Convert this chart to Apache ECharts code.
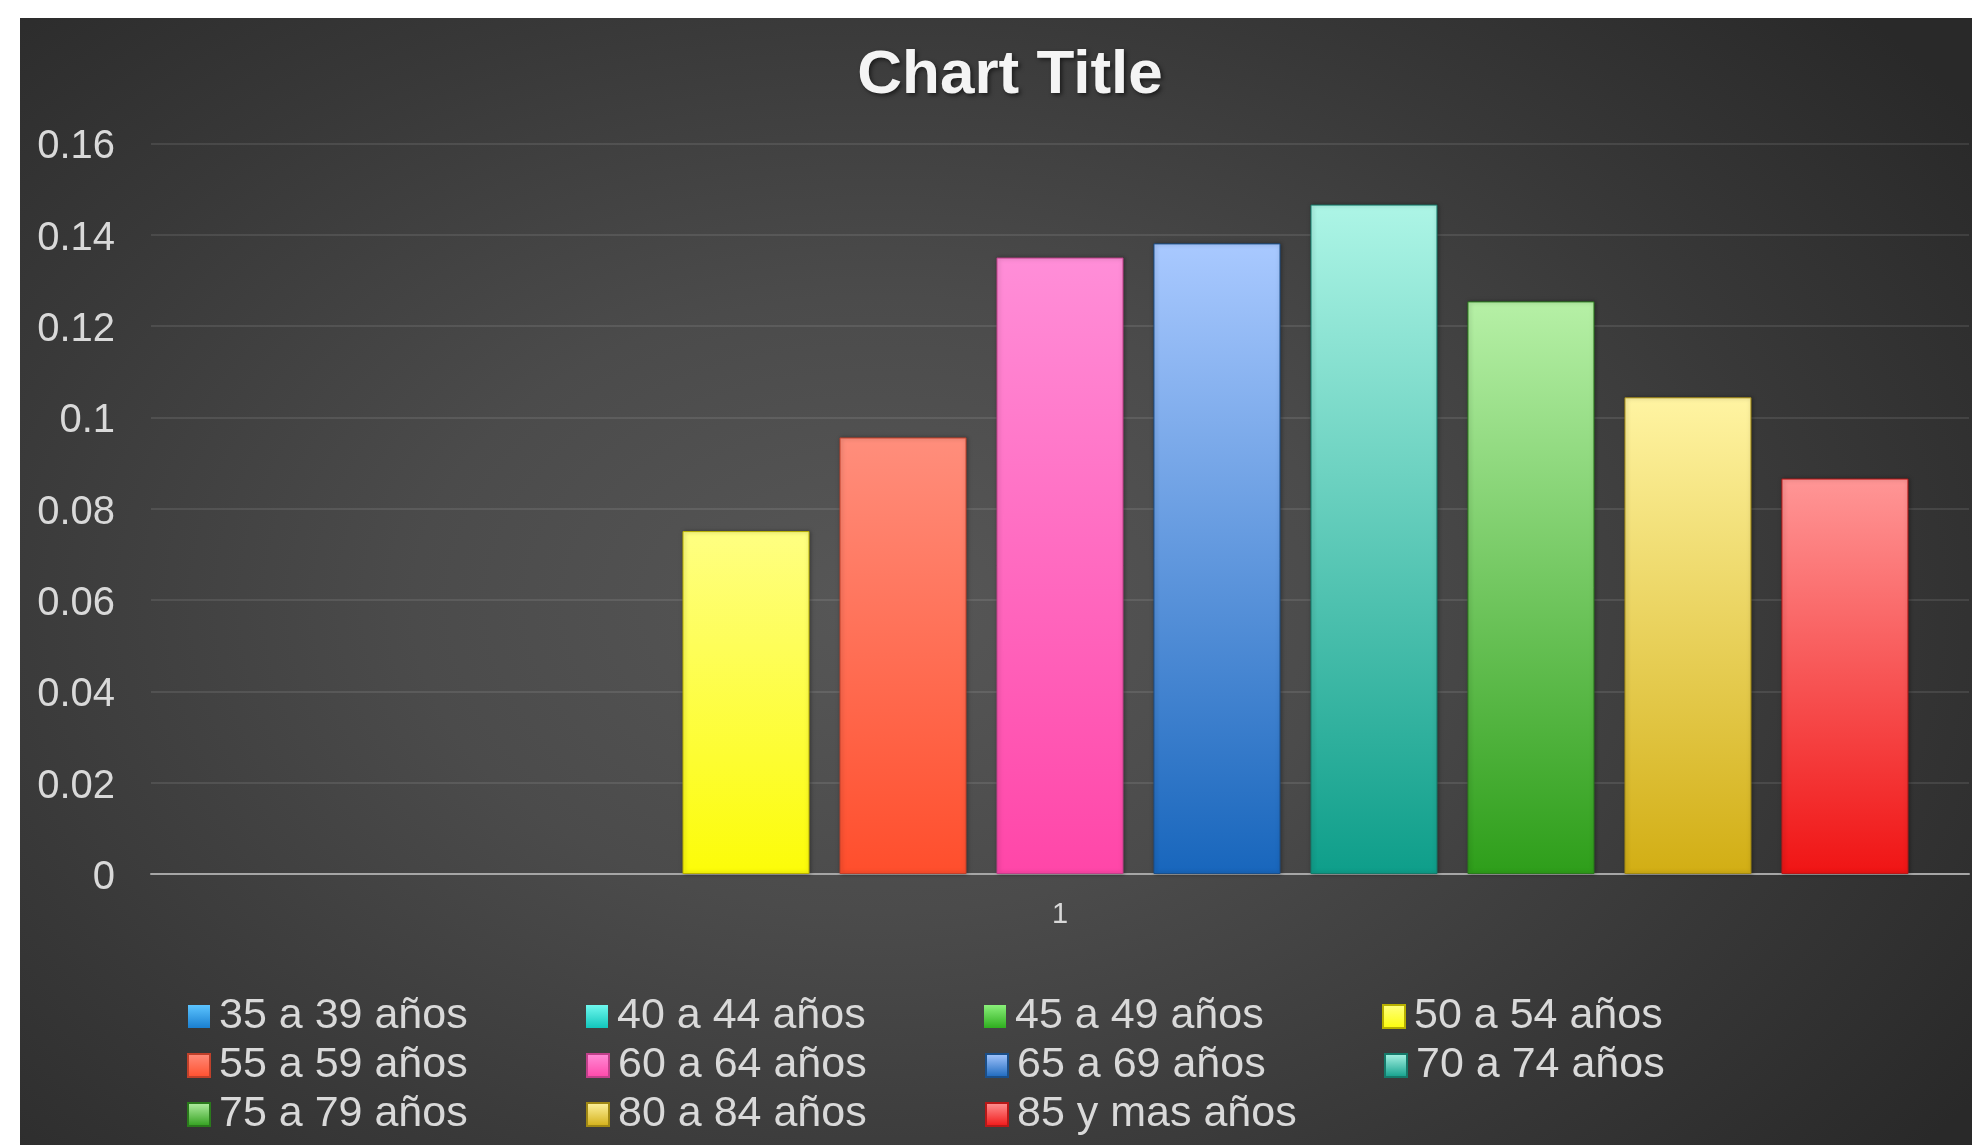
<!DOCTYPE html>
<html>
<head>
<meta charset="utf-8">
<script src="https://cdn.jsdelivr.net/npm/echarts@6/dist/echarts.min.js"></script>
<style>
  html, body { margin: 0; padding: 0; background: #ffffff; width: 1972px; height: 1145px; overflow: hidden; }
  #chart {
    position: absolute; left: 20px; top: 18px; width: 1952px; height: 1127px;
    background: radial-gradient(ellipse 68% 78% at 44% 52%, #575757 0%, #4b4b4b 35%, #383838 70%, #292929 100%);
  }
</style>
</head>
<body>
<div id="chart"></div>
<script>
// ---- data ----
const categories = ['1'];
const seriesNames = ['35 a 39 años', '40 a 44 años', '45 a 49 años', '50 a 54 años',
  '55 a 59 años', '60 a 64 años', '65 a 69 años', '70 a 74 años',
  '75 a 79 años', '80 a 84 años', '85 y mas años'];
const s35_39 = [0];
const s40_44 = [0];
const s45_49 = [0];
const s50_54 = [0.0751];
const s55_59 = [0.0956];
const s60_64 = [0.1350];
const s65_69 = [0.1381];
const s70_74 = [0.1466];
const s75_79 = [0.1254];
const s80_84 = [0.1044];
const s85_mas = [0.0866];
const yTickLabels = ['0', '0.02', '0.04', '0.06', '0.08', '0.1', '0.12', '0.14', '0.16'];

const seriesValues = [s35_39, s40_44, s45_49, s50_54, s55_59, s60_64, s65_69, s70_74, s75_79, s80_84, s85_mas];

// ---- styles ----
const gradStops = [
  ['#5cc4ff', '#1a7fd0'],
  ['#6ff8ee', '#12c6bc'],
  ['#8af07a', '#2fae1f'],
  ['#ffff82', '#fcfc08'],
  ['#ff8e7c', '#ff4e2c'],
  ['#ff8ed8', '#ff46a8'],
  ['#a9c9ff', '#1866bc'],
  ['#adf5e6', '#0e9e8a'],
  ['#b6f0a6', '#2e9e1a'],
  ['#fff4a2', '#d2ae14'],
  ['#ff9696', '#f01414']
];
const borders = ['#1a6aa8', '#13a098', '#2a8a1c', '#b8b000', '#c0402a', '#c0408a',
  '#1a4f8a', '#157a6a', '#2a7a1c', '#a08814', '#b81818'];

function grad(c) {
  return new echarts.graphic.LinearGradient(0, 0, 0, 1, [
    { offset: 0, color: c[0] },
    { offset: 1, color: c[1] }
  ]);
}

const series = seriesNames.map((name, i) => {
  const hasValue = seriesValues[i].some(v => v > 0);
  return {
    name: name,
    type: 'bar',
    data: seriesValues[i],
    barGap: '23.6%',
    barCategoryGap: '6.66%',
    itemStyle: {
      color: grad(gradStops[i]),
      borderColor: borders[i],
      borderWidth: hasValue ? 1 : 0,
      shadowColor: hasValue ? 'rgba(0,0,0,0.35)' : 'transparent',
      shadowBlur: hasValue ? 4 : 0,
      shadowOffsetX: hasValue ? 1 : 0
    },
    emphasis: { disabled: true }
  };
});

const chart = echarts.init(document.getElementById('chart'), null, { renderer: 'canvas' });
const font = '"Liberation Sans", Arial, "DejaVu Sans", sans-serif';
chart.setOption({
  backgroundColor: 'transparent',
  animation: false,
  title: {
    text: 'Chart Title',
    left: 985,
    top: 53,
    textAlign: 'center',
    textVerticalAlign: 'middle',
    textStyle: {
      fontFamily: font,
      fontSize: 62,
      fontWeight: 'bold',
      color: '#f4f4f4',
      textShadowColor: 'rgba(0,0,0,0.55)',
      textShadowBlur: 4,
      textShadowOffsetX: 2,
      textShadowOffsetY: 2
    }
  },
  grid: { left: 131, right: 3, top: 125.4, bottom: 271, containLabel: false },
  legend: {
    data: seriesNames,
    left: 162,
    top: 972,
    width: 1600,
    orient: 'horizontal',
    icon: 'rect',
    itemWidth: 22,
    itemHeight: 23,
    itemGap: 6,
    selectedMode: false,
    textStyle: {
      fontFamily: font,
      fontSize: 43,
      color: '#d9d9d9',
      width: 361,
      lineHeight: 40,
      padding: [0, 0, 0, 4],
      overflow: 'none'
    }
  },
  xAxis: {
    type: 'category',
    data: categories,
    axisLine: { show: true, lineStyle: { color: '#a6a6a6', width: 2 } },
    axisTick: { show: false },
    axisLabel: { fontFamily: font, fontSize: 29, color: '#d9d9d9', margin: 26 },
    splitLine: { show: false }
  },
  yAxis: {
    type: 'value',
    min: 0,
    max: 0.16,
    interval: 0.02,
    axisLine: { show: false },
    axisTick: { show: false },
    axisLabel: {
      fontFamily: font, fontSize: 40, color: '#d9d9d9', margin: 36,
      verticalAlign: 'top',
      lineHeight: 8,
      formatter: v => yTickLabels[Math.round(v / 0.02)]
    },
    splitLine: { lineStyle: { color: 'rgba(255,255,255,0.13)', width: 1.5 } }
  },
  series: series
});
</script>
</body>
</html>
